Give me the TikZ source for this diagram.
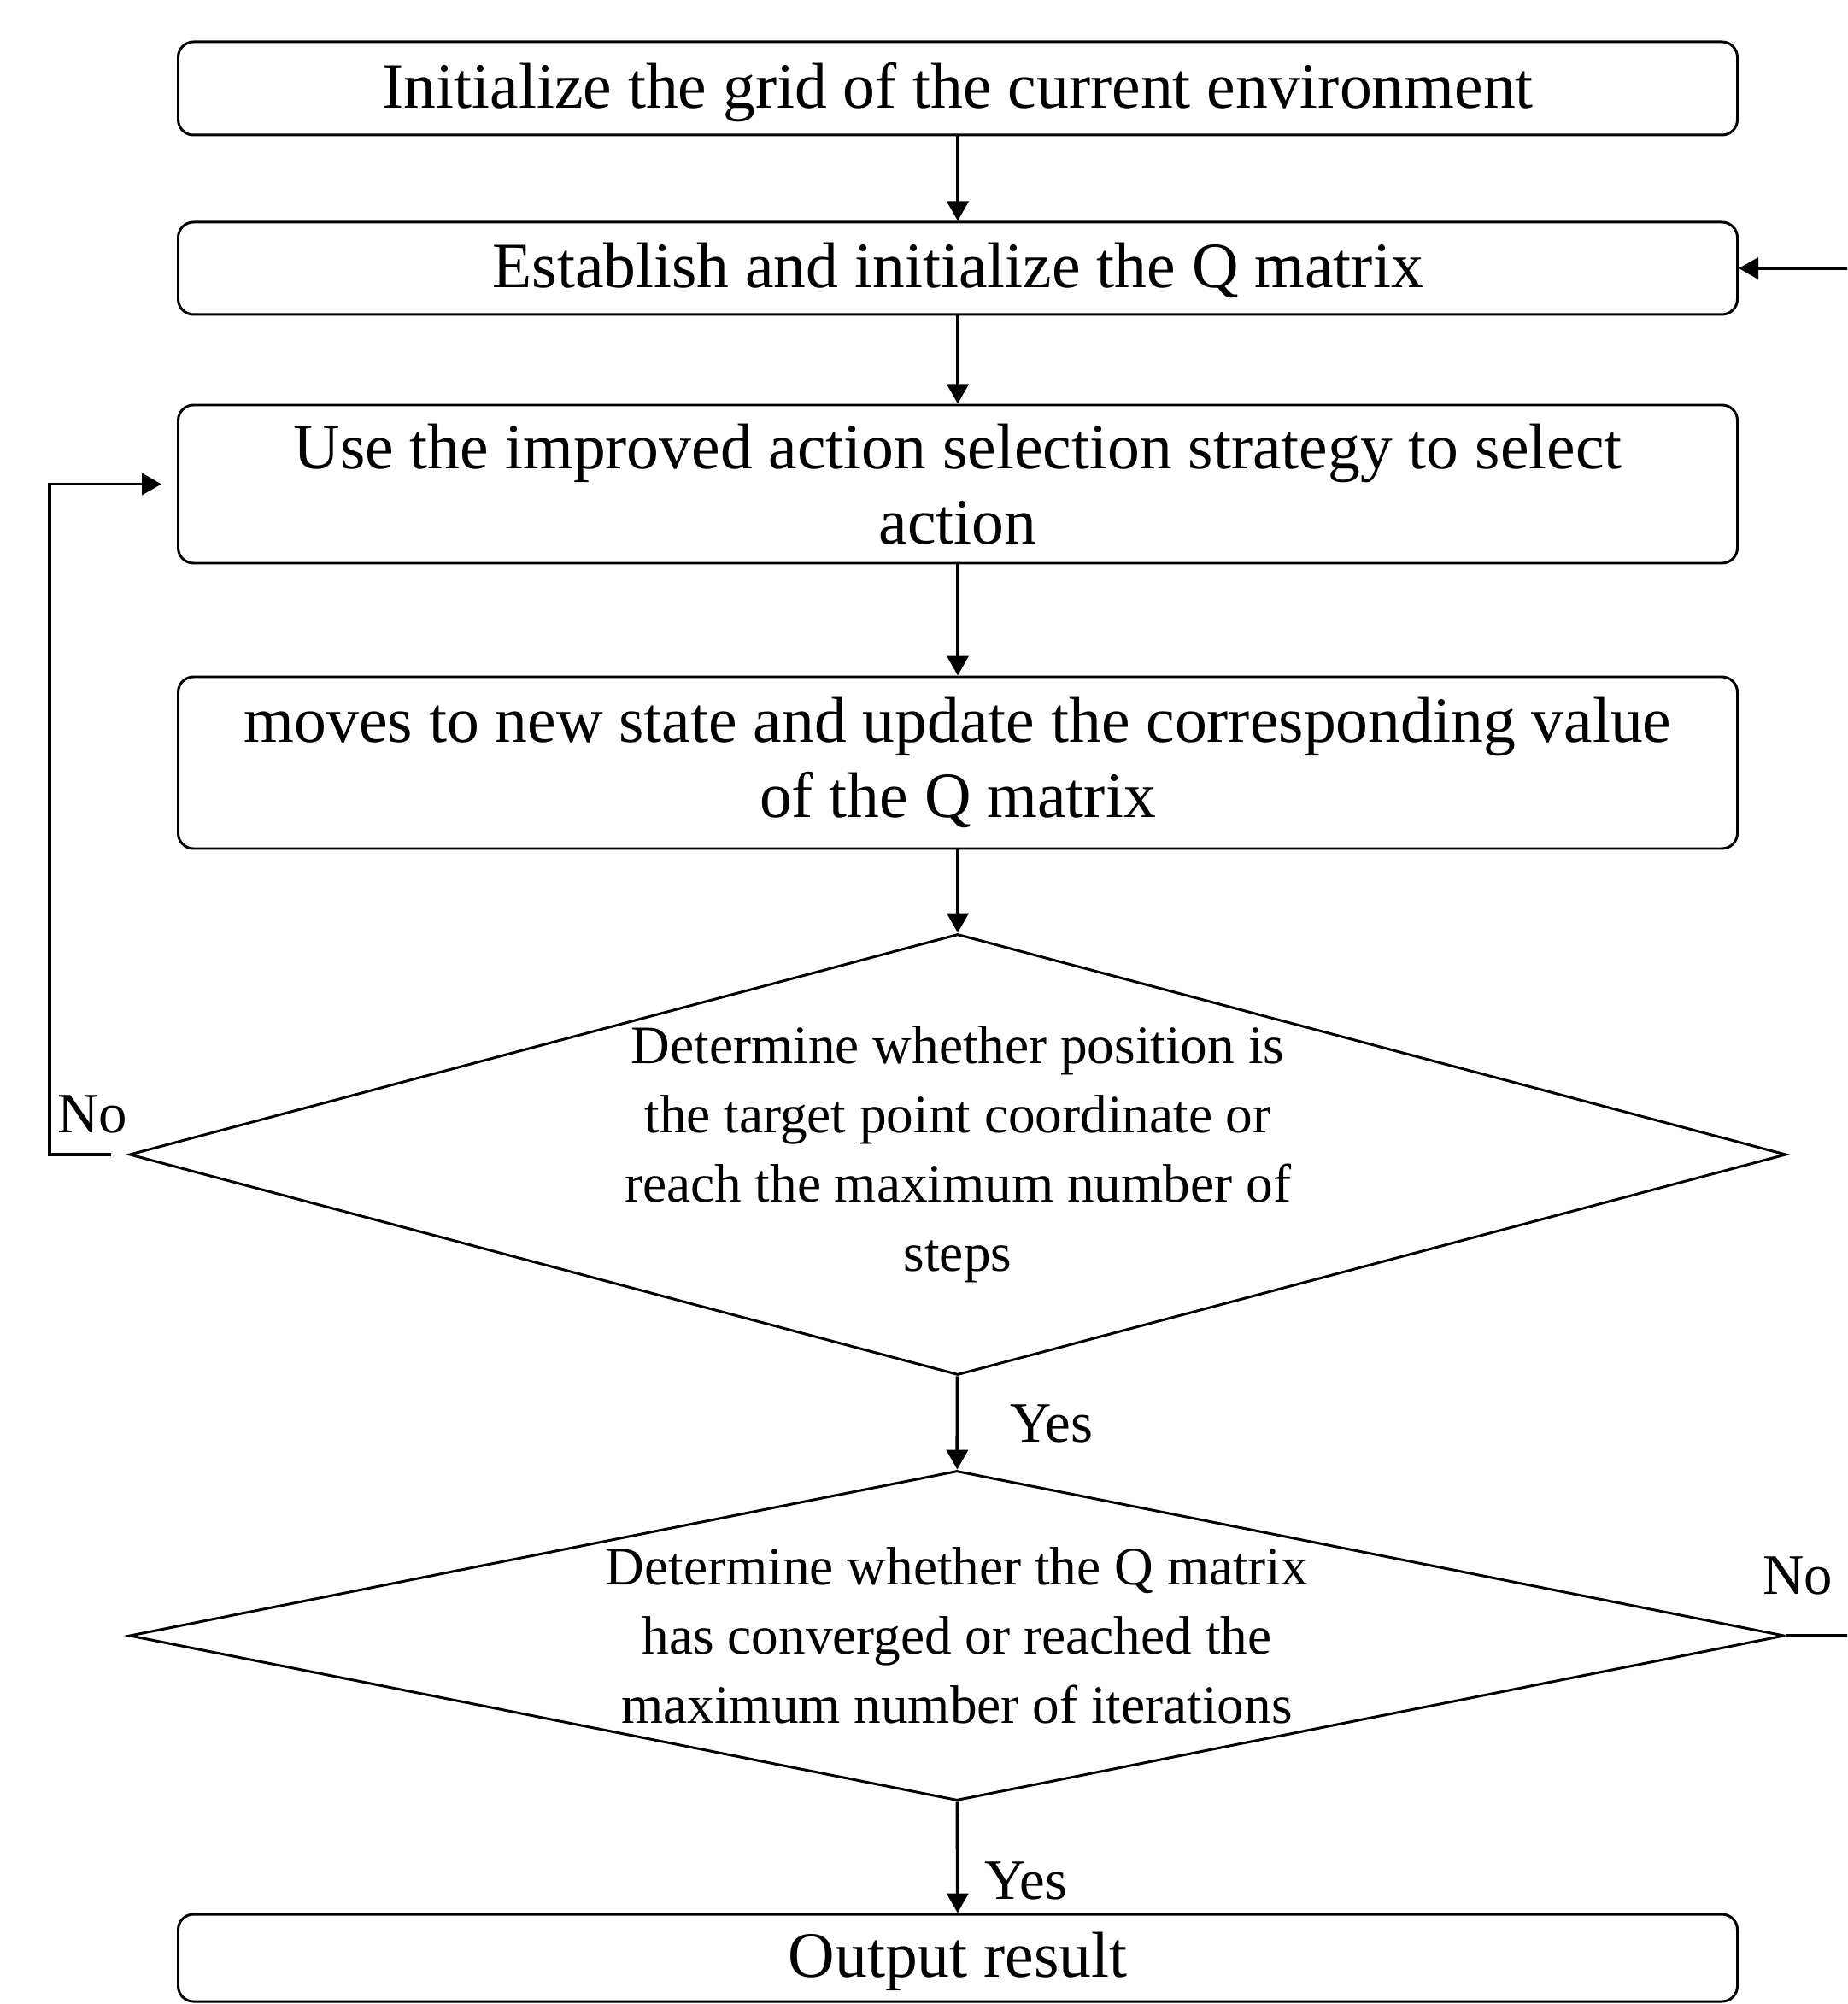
\documentclass[tikz,border=0pt]{standalone}
\usepackage{fontspec}
\setmainfont{Liberation Serif}
\usetikzlibrary{arrows.meta, shapes.geometric}

\begin{document}
\begin{tikzpicture}[->,>={Triangle[length=2.3mm,width=2.5mm]},line width=1.1pt]
  \tikzstyle{every step}=[rectangle,draw,line width=0.85pt,rounded corners=0.18cm,minimum width=18.25cm,align=center,inner sep=0pt,font=\fontsize{21.5}{25}\selectfont]
  \tikzstyle{check}=[diamond,draw,line width=0.85pt,inner sep=0pt,align=center,font=\fontsize{18}{23}\selectfont]
  \tikzstyle{lbl}=[font=\fontsize{19}{23}\selectfont,inner sep=0pt]
  \clip (0,0) rectangle (21.62,-23.45);
  \node[every step, minimum height=1.09cm, text depth=0.5ex] (init) at (11.21, -1.035) {Initialize the grid of the current environment};
  \node[every step, minimum height=1.08cm, text depth=0.5ex] (Q) at (11.21, -3.14) {Establish and initialize the Q matrix};
  \node[every step, minimum height=1.85cm] (act) at (11.21, -5.665) {Use the improved action selection strategy to select\\action};
  \node[every step, minimum height=2.01cm] (upd) at (11.21, -8.925) {moves to new state and update the corresponding value\\of the Q matrix};
  \node[check, aspect=3.76, minimum width=19.39cm, minimum height=5.16cm] (pos) at (11.21, -13.51) {Determine whether position is\\the target point coordinate or\\reach the maximum number of\\steps};
  \node[check, aspect=5.02, minimum width=19.37cm, minimum height=3.86cm] (conv) at (11.2, -19.14) {Determine whether the Q matrix\\has converged or reached the\\maximum number of iterations};
  \node[every step, minimum height=1.02cm, text depth=0.5ex] (out) at (11.21, -22.91) {Output result};
  \coordinate (lft) at (0.58, -13.51);
  \coordinate (rgt) at (21.9, -19.14);
  \path (init) edge node {} (Q);
  \path (Q) edge node {} (act);
  \path (act) edge node {} (upd);
  \path (upd) edge node {} (pos);
  \path (pos) edge node {} (conv);
  \path (conv) edge node {} (out);
  \draw[shorten <=2mm, shorten >=1.8mm] (pos.west) -- (lft) |- (act.west);
  \draw (conv.east) -- (rgt) |- (Q.east);
  \node[lbl] (no1) at (1.08, -13.04) {No};
  \node[lbl] (yes1) at (12.31, -16.66) {Yes};
  \node[lbl] (no2) at (21.04, -18.44) {No};
  \node[lbl] (yes2) at (12.01, -22.01) {Yes};
\end{tikzpicture}
\end{document}
